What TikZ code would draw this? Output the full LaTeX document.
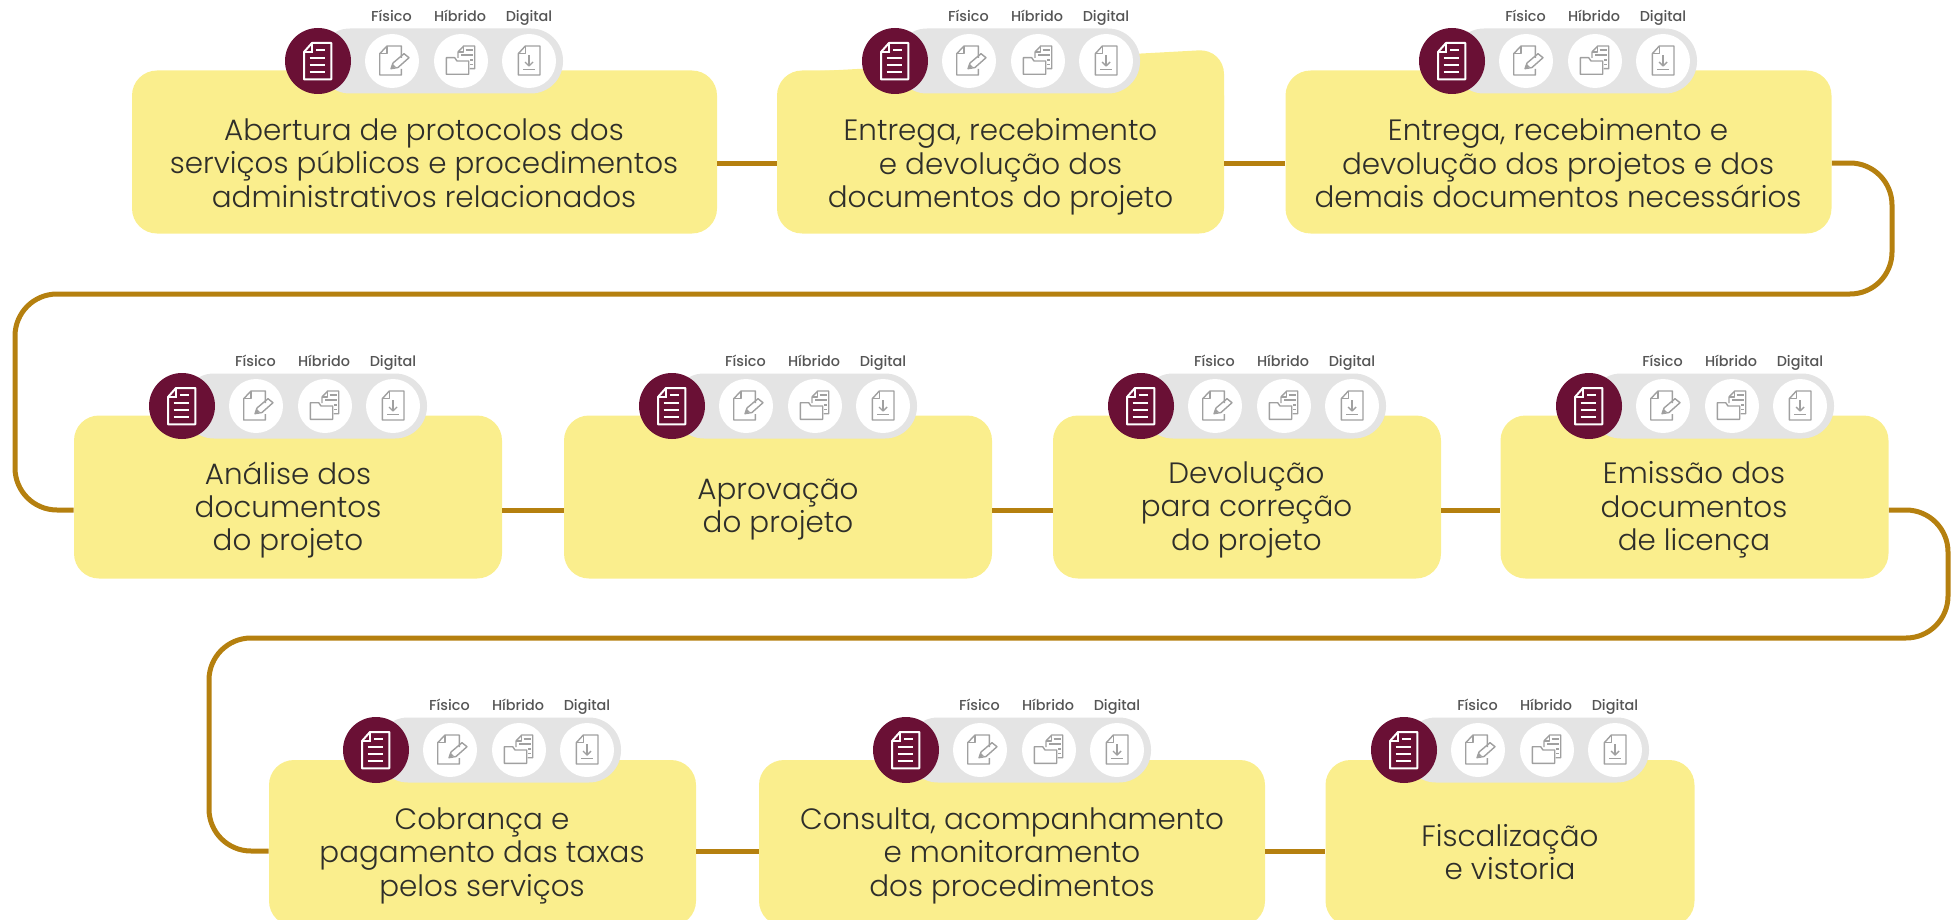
\documentclass[tikz,border=0pt]{standalone}
\usepackage{fontspec}
\setmainfont{Poppins}[UprightFont=* Light]
\newfontfamily\rotulofont{Poppins}[UprightFont=* Medium]
\definecolor{amarelo}{HTML}{FAEE8D}
\definecolor{vinho}{HTML}{6A1035}
\definecolor{cinza}{HTML}{E4E4E4}
\definecolor{ouro}{HTML}{B5800F}
\definecolor{traco}{HTML}{A0A0A0}
\definecolor{escrita}{HTML}{2E2E2A}
\definecolor{rotulo}{HTML}{555555}
\tikzset{
  etapa/.style={fill=amarelo, rounded corners=12.5pt, inner sep=0pt},
  texto/.style={align=center, text=escrita, inner sep=0pt, font=\fontsize{14.7}{16.6}\selectfont,
    execute at begin node=\strut, execute at end node=\strut},
  conector/.style={draw=ouro, line width=2.5pt},
  rotulotxt/.style={text=rotulo, inner sep=0pt, text height=5.5pt, text depth=1.7pt, font=\rotulofont\fontsize{7.2}{9}\selectfont},
  discovinho/.style={circle, fill=vinho, minimum size=33pt, inner sep=0pt},
  discobranco/.style={circle, fill=white, minimum size=27pt, inner sep=0pt},
  icone/.style={draw=traco, line width=0.7pt, line join=round},
  iconedoc/.pic={
    \draw[white, line width=1pt, line join=round] (-14,-9) -- (-6,-18) -- (13.3,-18) -- (13.3,18.3) -- (-14,18.3) -- cycle;
    \draw[white, line width=1pt] (-6,-18) -- (-6,-9) -- (-14,-9);
    \draw[white, line width=1pt] (-1.7,-10.7) -- (6.7,-10.7);
    \foreach \ly in {-3.3,3.7,11.3} \draw[white, line width=1pt] (-8.3,\ly) -- (7.3,\ly);
  },
  iconefisico/.pic={
    \draw[icone] (9.3,-3) -- (9.3,-15) -- (-5,-15) -- (-12.3,-7.3) -- (-12.3,14) -- (9.3,14) -- (9.3,8);
    \draw[icone] (-5,-15) -- (-5,-7.3) -- (-12.3,-7.3);
    \draw[icone] (-1,7.7) -- (1,2) -- (12,-7.3) -- (17,-3.3) -- (6,6.5) -- cycle;
    \fill[traco] (-1,7.7) -- (0.8,3) -- (4,6) -- cycle;
  },
  iconehibrido/.pic={
    \draw[icone] (-14.7,-3.3) -- (-6.3,-3.3) -- (-4,0) -- (7.7,0) -- (7.7,13.3) -- (-14.7,13.3) -- cycle;
    \draw[icone] (-3,-3) -- (-3,-9) -- (2.7,-15) -- (13.7,-15) -- (13.7,7.7) -- (8.7,7.7);
    \draw[icone] (2.7,-15) -- (2.7,-9) -- (-3,-9);
    \draw[icone] (4.5,-11) -- (11.5,-11);
    \draw[icone] (0,-6) -- (11.5,-6);
    \draw[icone] (9,-1) -- (11.5,-1);
    \draw[icone] (9,3.5) -- (11.5,3.5);
  },
  iconedigital/.pic={
    \draw[icone] (-10.7,-7.3) -- (-3.7,-15) -- (11,-15) -- (11,14) -- (-10.7,14) -- cycle;
    \draw[icone] (-3.7,-15) -- (-3.7,-7.3) -- (-10.7,-7.3);
    \draw[icone] (0,-5.7) -- (0,5);
    \draw[icone] (-4,1) -- (0,5) -- (4,1);
    \draw[icone] (-5.7,8.7) -- (6,8.7);
  }
}
\begin{document}
\begin{tikzpicture}[x=0.5pt, y=-0.5pt]
    \useasboundingbox (0,0) rectangle (1954,920);
    % Heights of the connector rows
    \coordinate (linha1) at (0,163);
    \coordinate (linha2) at (0,510);
    \coordinate (linha3) at (0,851);

    % First row
    \node[etapa, minimum width=292.5pt, minimum height=81.5pt] (abertura) at (424.5,152) {};
    \node[etapa, minimum width=223.5pt, minimum height=81.5pt] (entrega) at (1000.5,152) {};
    \fill[amarelo] (802,72) [rounded corners=12.5pt] -- (1224,49) [sharp corners] -- (1224,110) -- cycle;
    \node[etapa, minimum width=273pt, minimum height=81.5pt] (devolucao) at (1558.5,152) {};
    \node[texto] (abertura-t) at (424,168) {Abertura de protocolos dos\\serviços públicos e procedimentos\\administrativos relacionados};
    \node[texto] (entrega-t) at (1000.5,168) {Entrega, recebimento\\e devolução dos\\documentos do projeto};
    \node[texto] (devolucao-t) at (1558,168) {Entrega, recebimento e\\devolução dos projetos e dos\\demais documentos necessários};

    % Second row
    \node[etapa, minimum width=214pt, minimum height=81.5pt] (analise) at (288,497) {};
    \node[etapa, minimum width=214pt, minimum height=81.5pt] (aprovacao) at (778,497) {};
    \node[etapa, minimum width=194pt, minimum height=81.5pt] (correcao) at (1247,497) {};
    \node[etapa, minimum width=194pt, minimum height=81.5pt] (licenca) at (1694.5,497) {};
    \node[texto] (analise-t) at (288,511) {Análise dos\\documentos\\do projeto};
    \node[texto] (aprovacao-t) at (778,511) {Aprovação\\do projeto};
    \node[texto] (correcao-t) at (1246.5,511) {Devolução\\para correção\\do projeto};
    \node[texto] (licenca-t) at (1694,511) {Emissão dos\\documentos\\de licença};

    % Third row
    \node[etapa, minimum width=213.5pt, minimum height=83pt] (cobranca) at (482.5,843) {};
    \node[etapa, minimum width=253pt, minimum height=83pt] (consulta) at (1012,843) {};
    \node[etapa, minimum width=184.5pt, minimum height=83pt] (fiscalizacao) at (1510,843) {};
    \node[texto] (cobranca-t) at (482,857) {Cobrança e\\pagamento das taxas\\pelos serviços};
    \node[texto] (consulta-t) at (1012,857) {Consulta, acompanhamento\\e monitoramento\\dos procedimentos};
    \node[texto] (fiscalizacao-t) at (1510,857) {Fiscalização\\e vistoria};

    % Connectors
    \draw[conector] (abertura.east |- linha1) -- (entrega.west |- linha1);
    \draw[conector] (entrega.east |- linha1) -- (devolucao.west |- linha1);
    \draw[conector, rounded corners=21pt] (devolucao.east |- linha1) -- (1892,163) -- (1892,294) -- (15,294) -- (15,510) -- (analise.west |- linha2);
    \draw[conector] (analise.east |- linha2) -- (aprovacao.west |- linha2);
    \draw[conector] (aprovacao.east |- linha2) -- (correcao.west |- linha2);
    \draw[conector] (correcao.east |- linha2) -- (licenca.west |- linha2);
    \draw[conector, rounded corners=21pt] (licenca.east |- linha2) -- (1948,510) -- (1948,638) -- (209,638) -- (209,851) -- (cobranca.west |- linha3);
    \draw[conector] (cobranca.east |- linha3) -- (consulta.west |- linha3);
    \draw[conector] (consulta.east |- linha3) -- (fiscalizacao.west |- linha3);

    % Icon groups
    \foreach \gx/\gy/\gn in {318/61/a, 895/61/b, 1452/61/c, 182/406/d, 672/406/e, 1141/406/f, 1589/406/g, 376/750/h, 906/750/i, 1404/750/j} {
      \fill[cinza, rounded corners=16pt] (\gx,\gy-32.5) rectangle (\gx+245,\gy+32.5);
      \node[discovinho] (doc-\gn) at (\gx,\gy) {};
      \node[discobranco] (fis-\gn) at (\gx+74,\gy) {};
      \node[discobranco] (hib-\gn) at (\gx+143,\gy) {};
      \node[discobranco] (dig-\gn) at (\gx+211,\gy) {};
      \pic at (\gx,\gy) {iconedoc};
      \pic at (\gx+74,\gy) {iconefisico};
      \pic at (\gx+143,\gy) {iconehibrido};
      \pic at (\gx+211,\gy) {iconedigital};
      \node[rotulotxt] (fis-t-\gn) at (\gx+73.5,\gy-43) {Físico};
      \node[rotulotxt] (hib-t-\gn) at (\gx+142,\gy-43) {Híbrido};
      \node[rotulotxt] (dig-t-\gn) at (\gx+211,\gy-43) {Digital};
    }
\end{tikzpicture}
\end{document}
